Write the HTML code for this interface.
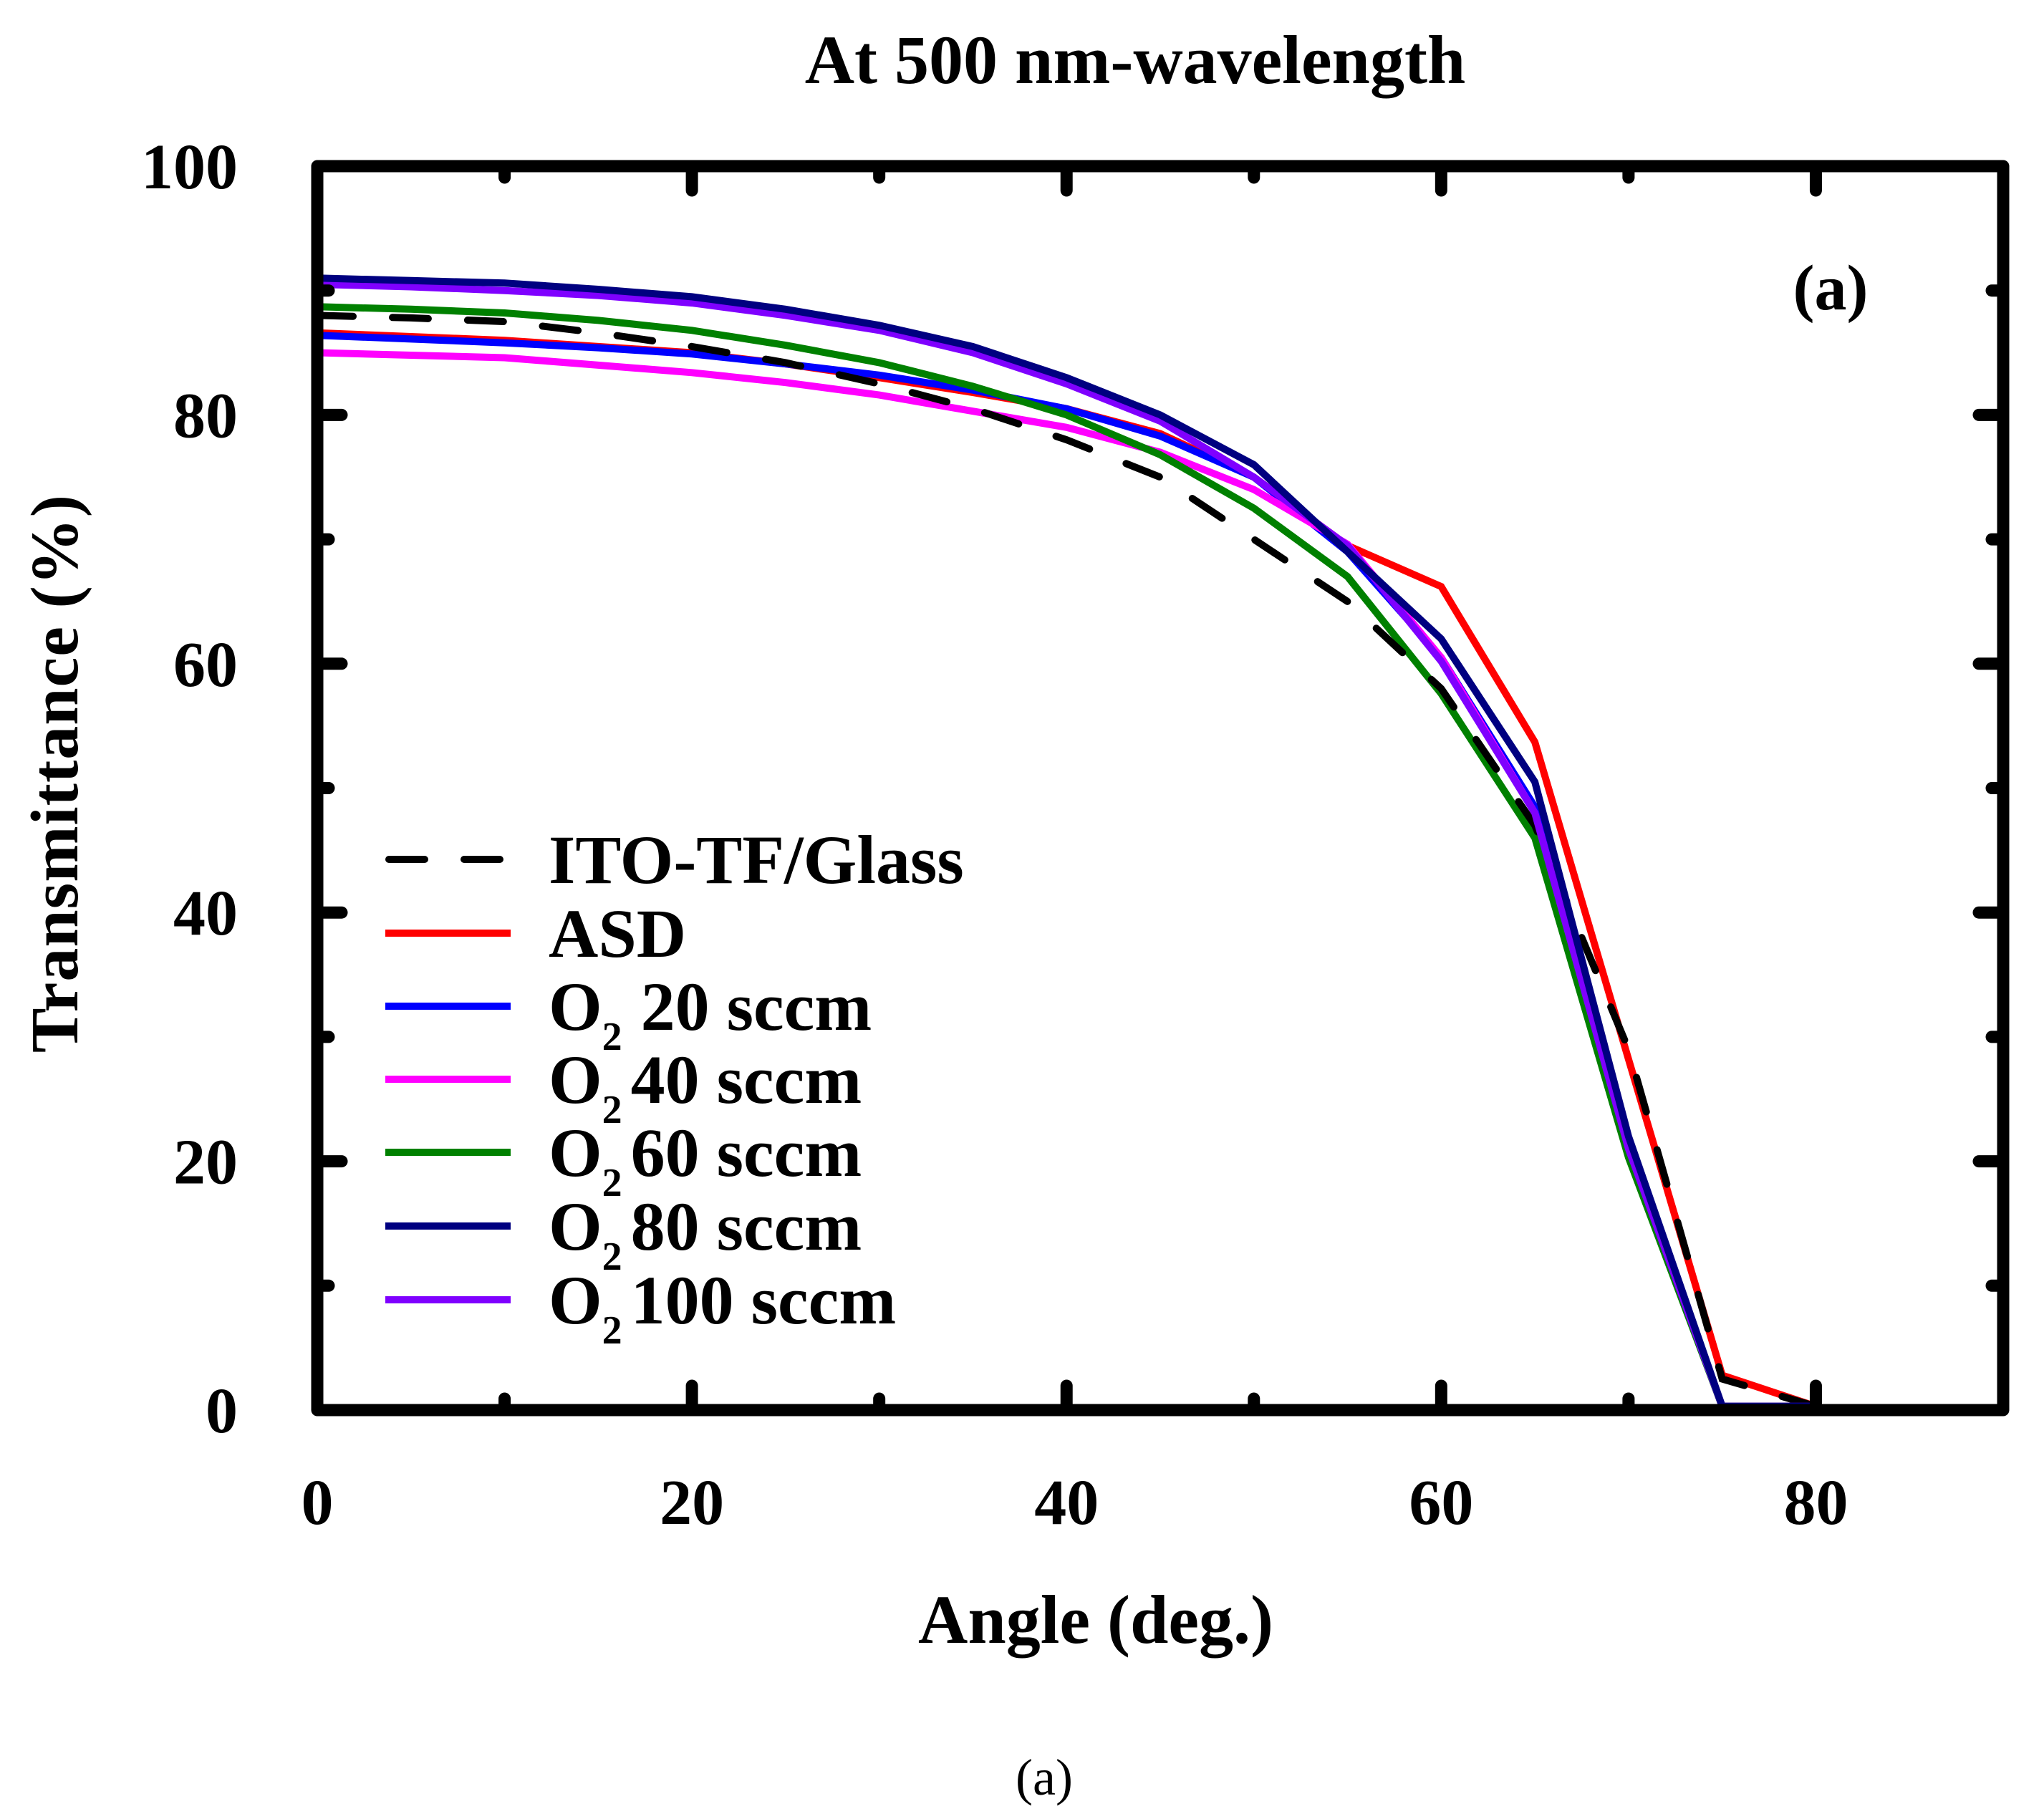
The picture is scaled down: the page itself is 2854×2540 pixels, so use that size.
<!DOCTYPE html>
<html><head><meta charset="utf-8"><style>
html,body{margin:0;padding:0;background:#fff;}
svg{display:block;font-family:"Liberation Serif",serif;}
</style></head><body>
<svg id="chart" width="2854" height="2540" viewBox="0 0 2854 2540" xmlns="http://www.w3.org/2000/svg">
<g id="plot"></g>
</svg>
<script>
const angles = [0,5,10,15,20,25,30,35,40,45,50,55,60,65,70,75,80];
const seriesNames = ["ITO-TF/Glass","ASD","O2 20 sccm","O2 40 sccm","O2 60 sccm","O2 80 sccm","O2 100 sccm"];
const itoValues   = [88,87.8,87.5,86.6,85.5,84.2,82.5,80.5,78,75,70,65,58,47,29,2.5,0.3];
const asdValues   = [86.6,86.3,86,85.5,85,84.1,83,81.8,80.5,78.5,75,69.5,66.2,53.7,28.2,2.8,0.3];
const o20Values   = [86.4,86.1,85.8,85.4,84.9,84.1,83.2,82,80.5,78.3,75,69,60.5,48.5,21,0.3,0.3];
const o40Values   = [85,84.8,84.6,84,83.4,82.6,81.6,80.3,79,77,74,69.6,60.5,48,21,0.3,0.3];
const o60Values   = [88.7,88.5,88.2,87.6,86.8,85.6,84.2,82.3,80,76.8,72.5,67,57.6,46,20.3,0.3,0.3];
const o80Values   = [91,90.8,90.6,90.1,89.5,88.5,87.2,85.5,83,80,76,69,62,50.5,22,0.3,0.3];
const o100Values  = [90.5,90.3,90,89.6,89,88,86.8,85,82.5,79.5,75,69.5,60.2,48,21,0.3,0.3];
const xTicks = [0,20,40,60,80];
const yTicks = [0,20,40,60,80,100];

const NS="http://www.w3.org/2000/svg";
const svg=document.getElementById('chart');
const X0=443,X1=2797,Y0=1969,Y1=232;
function xs(v){return X0+(v-0)/(90-0)*(X1-X0);}
function ys(v){return Y0-(v-0)/(100-0)*(Y0-Y1);}
function mk(tag,attrs,parent){const e=document.createElementNS(NS,tag);for(const k in attrs)e.setAttribute(k,attrs[k]);(parent||svg).appendChild(e);return e;}

// title
let t=mk('text',{x:1585,y:116,'text-anchor':'middle','font-size':96,'font-weight':'bold'});


t.textContent='At 500 nm-wavelength';

// series
const colors=['#000','#ff0000','#0000ff','#ff00ff','#008000','#000080','#7f00ff'];
const vals=[itoValues,asdValues,o20Values,o40Values,o60Values,o80Values,o100Values];
const lineNames=['line-ito-tf-glass','line-asd','line-o2-20-sccm','line-o2-40-sccm','line-o2-60-sccm','line-o2-80-sccm','line-o2-100-sccm'];
const order=[1,2,3,4,0,6,5];
for(const i of order){
  const d=angles.map((a,j)=>(j?'L':'M')+xs(a).toFixed(1)+' '+ys(vals[i][j]).toFixed(1)).join(' ');
  const p=mk('path',{d:d,fill:'none',stroke:colors[i],'stroke-width':10,'stroke-linejoin':'miter'});
  if(i===0){p.setAttribute('stroke-dasharray','50 55');p.setAttribute('stroke-linecap','round');}
  
  
}

// frame
const fr=mk('rect',{x:X0,y:Y1,width:X1-X0,height:Y0-Y1,fill:'none',stroke:'#000','stroke-width':17,'stroke-linejoin':'round'});



// ticks
const tg=mk('g',{stroke:'#000','stroke-width':17,'stroke-linecap':'round'});


for(let v=10;v<90;v+=10){const L=(v%20===0)?34:16;const x=xs(v);
  mk('line',{x1:x,y1:Y0,x2:x,y2:Y0-L},tg);mk('line',{x1:x,y1:Y1,x2:x,y2:Y1+L},tg);}
for(let v=10;v<100;v+=10){const L=(v%20===0)?34:16;const y=ys(v);
  mk('line',{x1:X0,y1:y,x2:X0+L,y2:y},tg);mk('line',{x1:X1,y1:y,x2:X1-L,y2:y},tg);}

// tick labels
for(const v of xTicks){const e=mk('text',{x:xs(v),y:2128,'text-anchor':'middle','font-size':90,'font-weight':'bold'});
  
  
  e.textContent=v;}
for(const v of yTicks){const e=mk('text',{x:332,y:ys(v)+31,'text-anchor':'end','font-size':90,'font-weight':'bold'});
  
  
  e.textContent=v;}

// axis titles
let xt=mk('text',{x:1530,y:2294,'text-anchor':'middle','font-size':96,'font-weight':'bold'});


xt.textContent='Angle (deg.)';
let yt=mk('text',{x:0,y:0,'text-anchor':'middle','font-size':94,'font-weight':'bold','letter-spacing':1,transform:'translate(108,1080) rotate(-90)'});


yt.textContent='Transmittance (%)';

// panel label
let pl=mk('text',{x:2556,y:432,'text-anchor':'middle','font-size':90,'font-weight':'bold'});


pl.textContent='(a)';
let cap=mk('text',{x:1458,y:2506,'text-anchor':'middle','font-size':72});


cap.textContent='(a)';

// legend
const lg=mk('g',{});


const legY=[1200,1303,1405,1507,1609,1712,1815];
const legNums=['','','20 sccm','40 sccm','60 sccm','80 sccm','100 sccm'];
for(let i=0;i<7;i++){
  const y=legY[i];
  const l=mk('line',{x1:538,y1:y,x2:713,y2:y,stroke:colors[i],'stroke-width':10},lg);
  if(i===0){l.setAttribute('stroke-dasharray','50 55');l.setAttribute('stroke-linecap','round');l.setAttribute('x1',543);}
  
  
  const tx=mk('text',{x:766,y:y+33,'font-size':96,'font-weight':'bold'},lg);
  
  
  if(i<2){tx.textContent=seriesNames[i];}
  else{
    const a=mk('tspan',{},tx);a.textContent='O';
    const b=mk('tspan',{dy:28,'font-size':56},tx);b.textContent='2';
    const c=mk('tspan',{dy:-28,dx:i===2?26:12},tx);c.textContent=legNums[i];
  }
}
</script>
</body></html>
